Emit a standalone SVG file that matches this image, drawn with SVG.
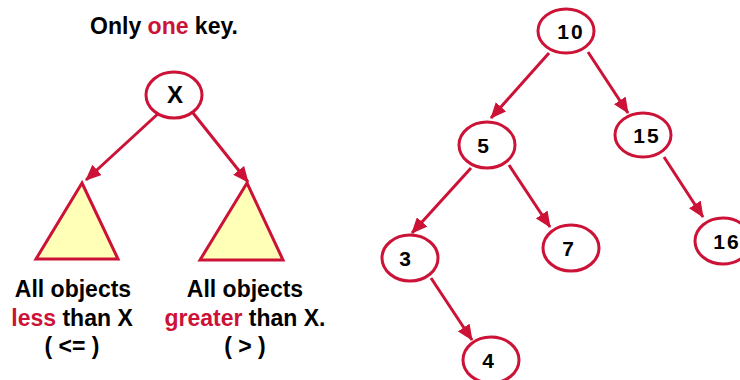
<svg xmlns="http://www.w3.org/2000/svg" width="740" height="380" viewBox="0 0 740 380">
<style>
.t{font-family:"Liberation Sans",Arial,sans-serif;font-weight:bold;font-size:23px;fill:#000;text-anchor:middle}
.r{fill:#cc1236}
.n{fill:#fff;stroke:#cc1236;stroke-width:3}
.num{font-family:"Liberation Sans",Arial,sans-serif;font-weight:bold;font-size:21px;fill:#000;text-anchor:middle;letter-spacing:2px}
.tri{fill:#ffffb8;stroke:#cc1236;stroke-width:3;stroke-linejoin:miter}
.e{stroke:#cc1236;stroke-width:3;fill:none;marker-end:url(#ah)}
</style>
<defs>
<marker id="ah" markerUnits="userSpaceOnUse" markerWidth="16" markerHeight="14" viewBox="0 0 16 14" refX="15" refY="7" orient="auto">
<path d="M0,0 L16,7 L0,14 z" fill="#cc1236"/>
</marker>
</defs>
<rect width="740" height="380" fill="#fff"/>
<text class="t" x="164" y="34">Only <tspan class="r">one</tspan> key.</text>
<g id="connectors">
<line class="e" x1="161" y1="111" x2="86" y2="180"/>
<line class="e" x1="193" y1="113" x2="248" y2="182"/>
<line class="e" x1="549" y1="53" x2="491" y2="118"/>
<line class="e" x1="588" y1="52" x2="628" y2="113"/>
<line class="e" x1="471" y1="168" x2="412" y2="233"/>
<line class="e" x1="509" y1="165" x2="550" y2="227"/>
<line class="e" x1="664" y1="157" x2="703" y2="217"/>
<line class="e" x1="431" y1="278" x2="472" y2="340"/>
</g>
<g id="nodeX">
<ellipse class="n" cx="174" cy="95" rx="28" ry="23"/>
<text class="t" x="175" y="103" style="font-size:24px">X</text>
</g>
<g id="leftSubtree">
<polygon class="tri" points="82,183 36,259 118,259"/>
<text class="t" x="73" y="297">All objects</text>
<text class="t" x="72" y="326"><tspan class="r">less</tspan> than X</text>
<text class="t" x="72" y="354">( &lt;= )</text>
</g>
<g id="rightSubtree">
<polygon class="tri" points="247,183 200,260 283,260"/>
<text class="t" x="245" y="297">All objects</text>
<text class="t" x="245" y="326"><tspan class="r">greater</tspan> than X.</text>
<text class="t" x="245" y="354">( &gt; )</text>
</g>
<g id="n10">
<ellipse class="n" cx="566" cy="31" rx="28" ry="22"/>
<text class="num" x="571" y="39">10</text>
</g>
<g id="n5">
<ellipse class="n" cx="487" cy="145" rx="28" ry="23"/>
<text class="num" x="484" y="153">5</text>
</g>
<g id="n15">
<ellipse class="n" cx="643" cy="135" rx="28" ry="22"/>
<text class="num" x="647" y="143">15</text>
</g>
<g id="n3">
<ellipse class="n" cx="410" cy="258" rx="28" ry="23"/>
<text class="num" x="406" y="266">3</text>
</g>
<g id="n7">
<ellipse class="n" cx="571" cy="248" rx="28" ry="23"/>
<text class="num" x="569" y="256">7</text>
</g>
<g id="n16">
<ellipse class="n" cx="723" cy="241" rx="28" ry="23"/>
<text class="num" x="727" y="249">16</text>
</g>
<g id="n4">
<ellipse class="n" cx="491" cy="360" rx="28" ry="23"/>
<text class="num" x="489" y="368">4</text>
</g>
</svg>
